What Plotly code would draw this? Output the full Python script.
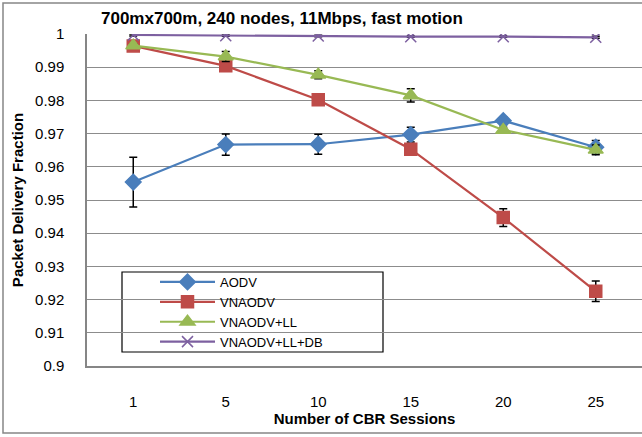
import plotly.graph_objects as go

categories = ["1", "5", "10", "15", "20", "25"]
aodv = [0.9554, 0.9667, 0.9668, 0.9697, 0.9739, 0.9659]
aodv_err = [0.0075, 0.0032, 0.0030, 0.0022, 0.0012, 0.0020]
vnaodv = [0.9964, 0.9904, 0.9802, 0.9653, 0.9447, 0.9225]
vnaodv_err = [0.0008, 0.0008, 0.0008, 0.0010, 0.0027, 0.0031]
vnaodv_ll = [0.9965, 0.9932, 0.9877, 0.9815, 0.9711, 0.9651]
vnaodv_ll_err = [0.0005, 0.0015, 0.0012, 0.0020, 0.0008, 0.0015]
vnaodv_lldb = [0.9997, 0.9995, 0.9994, 0.9992, 0.9992, 0.9990]
vnaodv_lldb_err = [0.0003, 0.0002, 0.0002, 0.0002, 0.0002, 0.0003]
ytick_vals = [0.9, 0.91, 0.92, 0.93, 0.94, 0.95, 0.96, 0.97, 0.98, 0.99, 1.0]
ytick_text = ["0.9", "0.91", "0.92", "0.93", "0.94", "0.95", "0.96", "0.97", "0.98", "0.99", "1"]

FONT = "Liberation Sans Narrow, Arial Narrow, Liberation Sans, sans-serif"
W, H = 642, 437
ML, MR, MT, MB = 87, 0, 34, 71
PW, PH = W - ML - MR, H - MT - MB

def px(x):
    return (x - ML) / PW

def py(y):
    return (H - MB - y) / PH

series = [
    ("AODV", aodv, aodv_err, "#4A7EBB", "diamond", 12),
    ("VNAODV", vnaodv, vnaodv_err, "#BE4B48", "square", 12),
    ("VNAODV+LL", vnaodv_ll, vnaodv_ll_err, "#98B954", "triangle-up", 13),
    ("VNAODV+LL+DB", vnaodv_lldb, vnaodv_lldb_err, "#7D60A0", "x-thin", 11),
]

fig = go.Figure()
for name, vals, err, color, sym, sz in series:
    fig.add_trace(go.Scatter(
        x=categories, y=vals, name=name, mode="lines+markers",
        line=dict(color=color, width=2.2),
        marker=dict(symbol=sym, size=sz, color=color,
                    line=dict(color=color, width=1.5)),
        error_y=dict(type="data", array=err, visible=True,
                     color="black", thickness=1.5, width=4),
    ))

fig.update_layout(
    width=W, height=H,
    margin=dict(l=ML, r=MR, t=MT, b=MB),
    paper_bgcolor="white", plot_bgcolor="white",
    font=dict(family=FONT, size=15, color="black"),
    showlegend=True,
    legend=dict(x=px(155), y=py(267), xanchor="left", yanchor="top",
                bgcolor="rgba(0,0,0,0)", borderwidth=0,
                font=dict(size=13), itemwidth=55, tracegroupgap=0),
    xaxis=dict(type="category", range=[-0.5, 5.5], showgrid=False,
               showline=True, linecolor="#868686", linewidth=1.5,
               ticks="", ticklabelstandoff=21,
               title=dict(text="<b>Number of CBR Sessions</b>", standoff=0,
                          font=dict(size=15))),
    yaxis=dict(range=[0.9, 1.0], tickvals=ytick_vals, ticktext=ytick_text,
               showgrid=True, gridcolor="#8c8c8c", gridwidth=1,
               showline=True, linecolor="#868686", linewidth=1.5,
               ticks="", ticklabelstandoff=18, zeroline=False,
               title=dict(text="<b>Packet Delivery Fraction</b>", standoff=8,
                          font=dict(size=15))),
)

# legend box
fig.add_shape(type="rect", xref="paper", yref="paper",
              x0=px(122), x1=px(383), y0=py(352), y1=py(272),
              line=dict(color="black", width=1.2), fillcolor="white",
              layer="below")
# outer chart border
fig.add_shape(type="rect", xref="paper", yref="paper",
              x0=px(3), x1=px(650), y0=py(433), y1=py(3),
              line=dict(color="#868686", width=1.5))

fig.add_annotation(x=px(282), y=py(18), xref="paper", yref="paper",
                   text="<b>700mx700m, 240 nodes, 11Mbps, fast motion</b>",
                   showarrow=False, font=dict(size=17), xanchor="center",
                   yanchor="middle")

fig.write_html("out.html")
